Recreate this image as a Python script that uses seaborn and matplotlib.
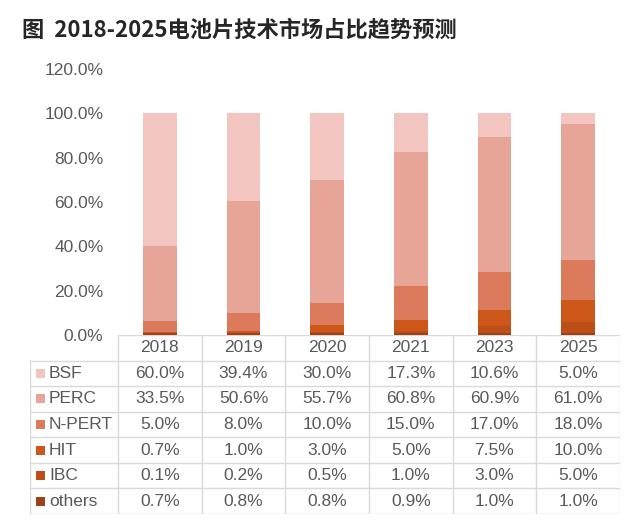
import pandas as pd
import matplotlib.pyplot as plt
import seaborn as sns
from matplotlib.patches import Rectangle

# data
years = ['2018', '2019', '2020', '2021', '2023', '2025']
series_names = ['BSF', 'PERC', 'N-PERT', 'HIT', 'IBC', 'others']
bsf = [60.0, 39.4, 30.0, 17.3, 10.6, 5.0]
perc = [33.5, 50.6, 55.7, 60.8, 60.9, 61.0]
npert = [5.0, 8.0, 10.0, 15.0, 17.0, 18.0]
hit = [0.7, 1.0, 3.0, 5.0, 7.5, 10.0]
ibc = [0.1, 0.2, 0.5, 1.0, 3.0, 5.0]
others = [0.7, 0.8, 0.8, 0.9, 1.0, 1.0]
yticks = [0.0, 0.2, 0.4, 0.6, 0.8, 1.0, 1.2]

colors = ['#f2c5c1', '#e6a596', '#dc7b5b', '#cd5619', '#bd4e17', '#9e4118']
text_col = '#595959'
grid_col = '#d9d9d9'

df = pd.DataFrame({'year': years, 'BSF': bsf, 'PERC': perc, 'N-PERT': npert,
                   'HIT': hit, 'IBC': ibc, 'others': others})

sns.set_style('white')
plt.rcParams['font.family'] = ['Liberation Sans', 'Noto Sans CJK SC', 'DejaVu Sans']

fig = plt.figure(figsize=(6.4, 5.26), dpi=100)
ax = fig.add_axes([118 / 640, 1 - 335 / 526, 502 / 640, 266 / 526])

# stacked bars: draw cumulative totals from the top down, each one on top of the last
cum = df[series_names[::-1]].cumsum(axis=1)
for name, color in zip(series_names, colors):
    sns.barplot(x=df['year'], y=cum[name] / 100, color=color, width=0.4,
                saturation=1, linewidth=0, edgecolor='none', ax=ax)

ax.set_ylim(0, 1.2)
ax.set_xlim(-0.5, 5.5)
ax.set_yticks(yticks)
ax.set_yticklabels([f'{v * 100:.1f}%' for v in yticks], fontsize=12.5, color=text_col)
ax.set_xticks([])
ax.tick_params(axis='y', length=0, pad=10.5)
ax.set_xlabel('')
ax.set_ylabel('')
for s in ax.spines.values():
    s.set_visible(False)
ax.patch.set_alpha(0)

# data table below
tax = fig.add_axes([30 / 640, 1 - 514 / 526, 590 / 640, 179 / 526])
lcol = 88 / 83.67
x0 = -0.5 - lcol
tax.set_xlim(x0, 5.5)
tax.set_ylim(7, 0)
tax.axis('off')

tax.plot([-0.5, 5.5], [0, 0], color=grid_col, lw=1)
for r in range(1, 8):
    tax.plot([x0, 5.5], [r, r], color=grid_col, lw=1)
tax.plot([x0, x0], [1, 7], color=grid_col, lw=1)
for i in range(7):
    tax.plot([-0.5 + i, -0.5 + i], [0, 7], color=grid_col, lw=1)

for i, y in enumerate(years):
    tax.text(i, 0.5, y, ha='center', va='center', fontsize=12.5, color=text_col)

for r, (name, color) in enumerate(zip(series_names, colors)):
    yc = r + 1.5
    sq_h = 9 / 25.6
    tax.add_patch(Rectangle((x0 + 6 / 83.67, yc - sq_h / 2), 9 / 83.67, sq_h,
                            color=color, lw=0))
    tax.text(x0 + 19 / 83.67, yc, name, ha='left', va='center', fontsize=12.5, color=text_col)
    for i, v in enumerate(df[name]):
        tax.text(i, yc, f'{v:.1f}%', ha='center', va='center', fontsize=12.5, color=text_col)

fig.text(22 / 640, 1 - 30 / 526, '图  2018-2025电池片技术市场占比趋势预测',
         fontsize=16, fontweight='bold', va='center', ha='left',
         family=['Noto Sans CJK SC', 'DejaVu Sans'])

fig.savefig('out.png', dpi=100)
